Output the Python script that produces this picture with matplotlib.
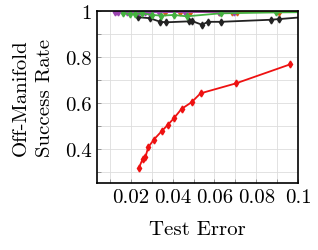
import numpy as np
import matplotlib
matplotlib.use("Agg")
import matplotlib.pyplot as plt
from matplotlib.ticker import MultipleLocator, FixedLocator

plt.rcParams['font.family'] = 'cmr10'
plt.rcParams['mathtext.fontset'] = 'cm'
plt.rcParams['axes.formatter.use_mathtext'] = True

# red series
red_x = [0.0237, 0.0256, 0.0269, 0.0282, 0.0309, 0.0349, 0.0376, 0.0405, 0.0442, 0.049, 0.0533, 0.0701, 0.0961]
red_y = [0.314, 0.355, 0.362, 0.405, 0.439, 0.478, 0.503, 0.532, 0.573, 0.602, 0.641, 0.684, 0.767]

# black series
black_x = [0.0234, 0.0289, 0.0341, 0.0370, 0.0477, 0.0493, 0.0541, 0.0568, 0.0629, 0.0869, 0.0909, 0.102]
black_y = [0.973, 0.969, 0.953, 0.951, 0.955, 0.956, 0.940, 0.953, 0.953, 0.962, 0.965, 0.973]

# green series
green_x = [0.0164, 0.0197, 0.0217, 0.0253, 0.0301, 0.0346, 0.0405, 0.0466, 0.0629, 0.0894, 0.102]
green_y = [0.991, 0.987, 0.987, 0.991, 0.983, 0.980, 0.983, 0.977, 0.990, 0.994, 0.995]

# purple series
purple_x = [0.0125, 0.0139, 0.0181, 0.0237, 0.0269, 0.0285, 0.0333, 0.0461, 0.0621, 0.0693]
purple_y = [0.995, 0.995, 0.995, 0.996, 0.996, 0.995, 0.995, 0.996, 0.996, 0.996]

# orange series
orange_x = [0.0365, 0.0434, 0.0485, 0.0621, 0.0686, 0.071, 0.091, 0.102]
orange_y = [0.996, 0.996, 0.996, 0.996, 0.996, 0.996, 0.996, 0.996]

xticks = [0.02, 0.04, 0.06, 0.08, 0.1]
xticklabels = ['0.02', '0.04', '0.06', '0.08', '0.1']
yticks = [0.4, 0.6, 0.8, 1.0]
yticklabels = ['0.4', '0.6', '0.8', '1']

fig = plt.figure(figsize=(3.18, 2.51), dpi=100)
ax = fig.add_axes([0.305, 0.267, 0.632, 0.685])

kw = dict(marker='d', markersize=3.5, linewidth=1.3)
ax.plot(red_x, red_y, color='#ee1111', **kw)
ax.plot(black_x, black_y, color='#222222', **kw)
ax.plot(orange_x, orange_y, color='#d2601a', **kw)
ax.plot(purple_x, purple_y, color='#9b44b0', **kw)
ax.plot(green_x, green_y, color='#44b040', **kw)

ax.set_xlim(0.0037, 0.1)
ax.set_ylim(0.25, 1.0)
ax.xaxis.set_major_locator(FixedLocator(xticks))
ax.set_xticklabels(xticklabels)
ax.xaxis.set_minor_locator(MultipleLocator(0.01))
ax.yaxis.set_major_locator(FixedLocator(yticks))
ax.set_yticklabels(yticklabels)
ax.yaxis.set_minor_locator(MultipleLocator(0.1))

ax.grid(True, which='both', color='#dddddd', linewidth=0.6)
ax.set_axisbelow(True)
ax.tick_params(which='both', direction='in', length=3, width=0.6, color='#888888',
               labelsize=15, pad=4)
for s in ax.spines.values():
    s.set_linewidth(1.2)

ax.set_xlabel('Test Error', fontsize=15, labelpad=10)
ax.set_ylabel('Off-Manifold\nSuccess Rate', fontsize=15, labelpad=8, linespacing=1.4)

fig.savefig('out.png', dpi=100)
